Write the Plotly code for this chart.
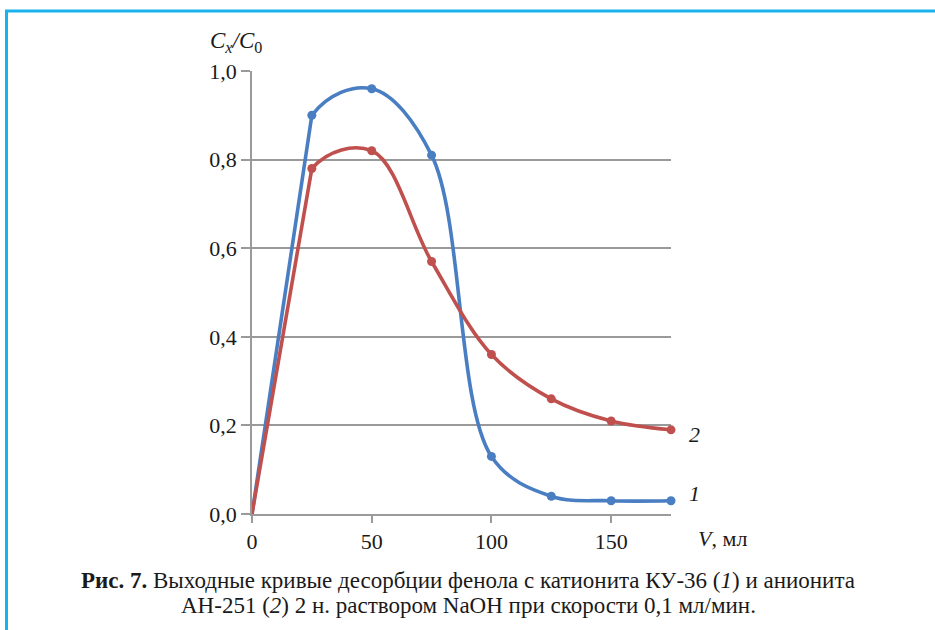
import plotly.graph_objects as go

# Data
volume_ml = [0, 25, 50, 75, 100, 125, 150, 175]
series1_ku36 = [0.0, 0.90, 0.96, 0.81, 0.13, 0.04, 0.03, 0.03]
series2_an251 = [0.0, 0.78, 0.82, 0.57, 0.36, 0.26, 0.21, 0.19]
y_tick_vals = [0.0, 0.2, 0.4, 0.6, 0.8, 1.0]
y_tick_text = ["0,0", "0,2", "0,4", "0,6", "0,8", "1,0"]
x_tick_vals = [0, 50, 100, 150]
x_tick_text = ["0", "50", "100", "150"]

X_MAX = 175
W, H = 935, 630
L, R, T, B = 252, 264, 71, 116
PW, PH = W - L - R, H - T - B

def px(xp):
    return (xp - L) / PW

def py(yp):
    return (H - B - yp) / PH

BLUE = "#4a7ec3"
RED = "#c0504d"
GRID = "#9a9a9a"
FONT = "Liberation Serif"

x_split = volume_ml[1]
series = [(series1_ku36, BLUE), (series2_an251, RED)]

fig = go.Figure()
for ys, col in series:
    # nearly straight initial rise
    fig.add_trace(go.Scatter(
        x=volume_ml[:2], y=ys[:2], mode="lines", xaxis="x", yaxis="y",
        line=dict(color=col, width=3.6), showlegend=False))
for ys, col in series:
    # smooth curve over all points, shown from the 2nd point onward
    fig.add_trace(go.Scatter(
        x=volume_ml, y=ys, mode="lines", xaxis="x2", yaxis="y2",
        line=dict(color=col, width=3.6, shape="spline", smoothing=1.0),
        showlegend=False))
for ys, col in series:
    fig.add_trace(go.Scatter(
        x=volume_ml, y=ys, mode="markers", xaxis="x2", yaxis="y2",
        marker=dict(color=col, size=9), cliponaxis=False, showlegend=False))

fig.update_layout(
    width=W, height=H,
    margin=dict(l=L, r=R, t=T, b=B, pad=0),
    paper_bgcolor="white", plot_bgcolor="rgba(0,0,0,0)",
    font=dict(family=FONT, size=21, color="#1a1a1a"),
    xaxis=dict(range=[0, X_MAX], domain=[0, 1], tickvals=x_tick_vals,
               ticktext=x_tick_text, showgrid=False, zeroline=False,
               showline=True, linecolor=GRID, linewidth=1.5, ticks="outside",
               ticklen=7, tickcolor=GRID, tickwidth=1.5,
               tickfont=dict(family=FONT, size=22, color="#1a1a1a")),
    yaxis=dict(range=[0, 1.0], tickvals=y_tick_vals, ticktext=y_tick_text,
               showgrid=True, gridcolor=GRID, gridwidth=1.5, zeroline=False,
               showline=True, linecolor=GRID, linewidth=1.5, ticks="outside",
               ticklen=9, tickcolor=GRID, tickwidth=1.5,
               tickfont=dict(family=FONT, size=22, color="#1a1a1a")),
    xaxis2=dict(range=[x_split, X_MAX], domain=[x_split / X_MAX, 1],
                anchor="y2", visible=False, showgrid=False, zeroline=False),
    yaxis2=dict(range=[0, 1.0], domain=[0, 1], anchor="x2", visible=False,
                showgrid=False, zeroline=False),
)

ann = [
    dict(x=px(236), y=py(42), text="<i>C</i><sub><i>x</i></sub><i>/C</i><sub>0</sub>",
         font=dict(size=23)),
    dict(x=px(722), y=py(538), text="<i>V</i>, мл", font=dict(size=22)),
    dict(x=px(694), y=py(434), text="<i>2</i>", font=dict(size=22)),
    dict(x=px(694), y=py(493), text="<i>1</i>", font=dict(size=22)),
    dict(x=px(468), y=py(580),
         text="<b>Рис. 7.</b> Выходные кривые десорбции фенола с катионита КУ-36 (<i>1</i>) и анионита",
         font=dict(size=23)),
    dict(x=px(468), y=py(605),
         text="АН-251 (<i>2</i>) 2 н. раствором NaOH при скорости 0,1 мл/мин.",
         font=dict(size=23)),
]
for a in ann:
    fig.add_annotation(xref="paper", yref="paper", showarrow=False,
                       xanchor="center", yanchor="middle", **a)

BORDER = "#19b2ec"
fig.add_shape(type="line", xref="paper", yref="paper",
              x0=px(5), x1=px(935), y0=py(11), y1=py(11),
              line=dict(color=BORDER, width=3))
fig.add_shape(type="line", xref="paper", yref="paper",
              x0=px(6.5), x1=px(6.5), y0=py(10), y1=py(630),
              line=dict(color=BORDER, width=3))

fig.write_html("out.html")
